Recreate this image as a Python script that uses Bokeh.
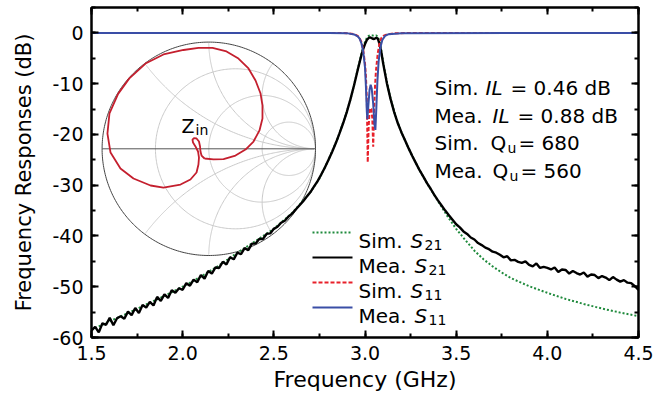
import numpy as np
from bokeh.plotting import figure
from bokeh.models import Range1d, LinearAxis, SingleIntervalTicker, PrintfTickFormatter, Label
from bokeh.embed import file_html
from bokeh.resources import INLINE

# ---------------- data ----------------
freq_sim_s21 = [1.50, 1.60, 1.70, 1.80, 1.90, 2.00, 2.10, 2.20, 2.30, 2.40, 2.50, 2.60, 2.70, 2.75,
                2.80, 2.85, 2.90, 2.92, 2.94, 2.96, 2.98, 2.99, 3.00, 3.01, 3.02, 3.03, 3.04, 3.05,
                3.06, 3.07, 3.08, 3.09, 3.10, 3.12, 3.14, 3.16, 3.18, 3.20, 3.25, 3.30, 3.35, 3.40,
                3.45, 3.50, 3.55, 3.60, 3.65, 3.70, 3.75, 3.80, 3.90, 4.00, 4.10, 4.20, 4.30, 4.40, 4.50]
sim_s21_db = [-58.5, -56.8, -55.2, -53.5, -51.8, -50.0, -48.0, -45.8, -43.3, -41.0, -38.6, -35.5, -31.4, -28.7,
              -25.0, -20.8, -15.6, -13.1, -10.3, -7.2, -4.2, -2.9, -1.8, -1.0, -0.6, -0.46, -0.5, -0.55,
              -0.5, -0.7, -1.7, -3.5, -5.8, -9.7, -12.9, -15.5, -17.7, -19.6, -23.6, -27.1, -30.2, -33.1,
              -36.0, -38.6, -40.8, -42.9, -44.6, -46.0, -47.2, -48.3, -49.9, -51.2, -52.4, -53.4, -54.3, -55.1, -55.8]

freq_mea_s21 = [1.50, 1.52, 1.54, 1.56, 1.58, 1.60, 1.62, 1.64, 1.66, 1.68, 1.70, 1.72, 1.74, 1.76, 1.78,
                1.80, 1.82, 1.84, 1.86, 1.88, 1.90, 1.92, 1.94, 1.96, 1.98, 2.00, 2.02, 2.04, 2.06, 2.08,
                2.10, 2.12, 2.14, 2.16, 2.18, 2.20, 2.22, 2.24, 2.26, 2.28, 2.30, 2.32, 2.34, 2.36, 2.38,
                2.40, 2.42, 2.44, 2.46, 2.48, 2.50, 2.52, 2.54, 2.56, 2.58, 2.60, 2.62, 2.64, 2.66, 2.68,
                2.70, 2.72, 2.74, 2.76, 2.78, 2.80, 2.82, 2.84, 2.86, 2.88, 2.90,
                2.92, 2.94, 2.96, 2.98, 2.99, 3.00, 3.01, 3.02, 3.03, 3.04, 3.05, 3.06, 3.07, 3.08, 3.09,
                3.10, 3.12, 3.14, 3.16, 3.18, 3.20,
                3.22, 3.24, 3.26, 3.28, 3.30, 3.32, 3.34, 3.36, 3.38, 3.40, 3.42, 3.44, 3.46, 3.48, 3.50,
                3.52, 3.54, 3.56, 3.58, 3.60, 3.62, 3.64, 3.66, 3.68, 3.70, 3.72, 3.74, 3.76, 3.78, 3.80,
                3.82, 3.84, 3.86, 3.88, 3.90, 3.92, 3.94, 3.96, 3.98, 4.00, 4.02, 4.04, 4.06, 4.08, 4.10,
                4.12, 4.14, 4.16, 4.18, 4.20, 4.22, 4.24, 4.26, 4.28, 4.30, 4.32, 4.34, 4.36, 4.38, 4.40,
                4.42, 4.44, 4.46, 4.48, 4.50]
mea_s21_db = [-58.6, -57.9, -59.0, -57.2, -57.5, -56.1, -57.6, -56.2, -55.8, -56.3, -54.9, -55.6, -54.2, -55.2, -53.6,
              -54.1, -53.0, -53.7, -52.0, -52.8, -51.5, -52.2, -50.7, -51.2, -50.3, -50.6, -49.3, -49.8, -48.6, -49.1,
              -47.7, -48.4, -46.9, -47.4, -46.2, -46.3, -45.1, -45.6, -44.2, -44.6, -43.3, -43.6, -42.4, -42.8, -41.5,
              -41.5, -40.6, -40.6, -39.6, -39.5, -38.6, -38.2, -37.4, -37.0, -36.2, -35.6, -34.8, -34.0, -33.2, -32.3,
              -31.4, -30.3, -29.2, -27.9, -26.5, -25.0, -23.4, -21.7, -19.8, -17.8, -15.6,
              -13.1, -10.3, -7.3, -4.4, -3.2, -2.2, -1.4, -1.0, -0.9, -1.1, -1.2, -1.0, -1.1, -2.2, -3.9,
              -6.1, -9.9, -13.0, -15.6, -17.8, -19.6,
              -21.2, -22.8, -24.3, -25.7, -27.1, -28.3, -29.6, -30.7, -31.9, -33.0, -34.0, -35.0, -35.9, -36.8, -37.7,
              -38.3, -39.1, -39.6, -40.3, -40.7, -41.4, -41.8, -42.3, -42.6, -43.1, -43.3, -43.7, -44.2, -44.0, -44.8,
              -44.7, -45.1, -45.3, -45.0, -45.7, -46.0, -45.4, -46.3, -46.1, -46.3, -46.6, -46.2, -47.1, -46.6, -46.7,
              -47.4, -46.9, -47.3, -47.6, -47.2, -48.0, -47.6, -47.7, -48.3, -47.9, -48.2, -48.7, -48.1, -48.6, -49.0,
              -48.7, -49.2, -49.3, -49.9, -50.6]

freq_sim_s11 = [1.50, 2.80, 2.90, 2.94, 2.96, 2.97, 2.98, 2.99, 3.00, 3.005, 3.01, 3.015, 3.02, 3.025, 3.03,
                3.035, 3.04, 3.045, 3.05, 3.055, 3.06, 3.07, 3.08, 3.09, 3.10, 3.12, 3.16, 3.25, 4.50]
sim_s11_db = [0.0, -0.02, -0.05, -0.25, -0.6, -1.0, -1.8, -3.3, -6.0, -8.5, -13.0, -25.5, -18.5, -15.5, -14.8,
              -15.0, -16.8, -22.4, -15.5, -10.5, -7.5, -4.0, -2.0, -1.0, -0.6, -0.3, -0.1, 0.0, 0.0]

freq_mea_s11 = [1.50, 2.80, 2.90, 2.94, 2.96, 2.97, 2.98, 2.99, 3.00, 3.005, 3.01, 3.013, 3.018, 3.025, 3.031,
                3.037, 3.045, 3.052, 3.057, 3.062, 3.068, 3.075, 3.085, 3.095, 3.11, 3.13, 3.20, 4.50]
mea_s11_db = [0.0, -0.02, -0.05, -0.3, -0.7, -1.1, -2.0, -3.6, -6.8, -10.5, -15.5, -17.0, -14.5, -11.2, -10.2,
              -11.0, -14.0, -18.0, -19.1, -15.0, -9.5, -5.5, -2.8, -1.4, -0.6, -0.25, -0.05, 0.0]

# Zin trace on the Smith chart (reflection coefficient, real / imaginary part)
zin_re = [-0.040, 0.044, 0.138, 0.250, 0.344, 0.419, 0.475, 0.503, 0.503, 0.485, 0.438, 0.372, 0.278, 0.166,
          0.035, -0.097, -0.237, -0.425, -0.593, -0.745, -0.850, -0.931, -0.950, -0.921, -0.828, -0.706, -0.546,
          -0.425, -0.265, -0.172, -0.115, -0.097, -0.092, -0.101, -0.125, -0.148, -0.153, -0.139, -0.115, -0.092,
          -0.082, -0.078, -0.068, -0.040]
zin_im = [-0.091, -0.100, -0.096, -0.063, -0.007, 0.068, 0.172, 0.284, 0.406, 0.518, 0.640, 0.753, 0.846, 0.912,
          0.945, 0.945, 0.926, 0.884, 0.799, 0.660, 0.515, 0.331, 0.143, -0.035, -0.185, -0.278, -0.344,
          -0.363, -0.335, -0.288, -0.222, -0.147, -0.082, -0.025, 0.022, 0.059, 0.087, 0.101, 0.097, 0.068,
          0.022, -0.025, -0.063, -0.091]

smith_r_values = [1 / 3, 1.0, 3.0]
smith_x_values = [0.5, 1.0, 2.0, -0.5, -1.0, -2.0]

legend_labels = [("Sim.", "S", "21"), ("Mea.", "S", "21"), ("Sim.", "S", "11"), ("Mea.", "S", "11")]
note_rows = [("Sim.", "IL", "", "= 0.46 dB"), ("Mea.", "IL", "", "= 0.88 dB"),
             ("Sim.", "Q", "u", "= 680"), ("Mea.", "Q", "u", "= 560")]

# ---------------- layout / style ----------------
FONT = "DejaVu Sans"
W, H = 667, 404
FL, FR, FT, FB = 91, 638, 7, 337
X0, X1, Y0, Y1 = 1.5, 4.5, -60, 5

def fx(px):
    return X0 + (px - FL) * (X1 - X0) / (FR - FL)

def fy(py):
    return Y1 - (py - FT) * (Y1 - Y0) / (FB - FT)

p = figure(width=W, height=H, x_range=Range1d(X0, X1), y_range=Range1d(Y0, Y1),
           output_backend="svg", toolbar_location=None,
           min_border_left=FL, min_border_right=W - FR, min_border_top=FT, min_border_bottom=H - FB)
p.xgrid.visible = False
p.ygrid.visible = False
p.outline_line_color = "black"
p.outline_line_width = 2
p.background_fill_color = "white"
p.border_fill_color = "white"

def style_axis(ax, show_labels=True):
    ax.axis_line_width = 2
    ax.axis_line_color = "black"
    ax.major_tick_in = 7
    ax.major_tick_out = 0
    ax.minor_tick_in = 4
    ax.minor_tick_out = 0
    ax.major_tick_line_width = 2
    ax.minor_tick_line_width = 2
    ax.major_tick_line_color = "black"
    ax.minor_tick_line_color = "black"
    ax.major_label_text_font = FONT
    ax.major_label_text_color = "black"
    ax.axis_label_text_font = FONT
    ax.axis_label_text_color = "black"
    ax.axis_label_text_font_style = "normal"
    if show_labels:
        ax.major_label_text_font_size = "19px"
        ax.major_label_standoff = 8
    else:
        ax.major_label_text_font_size = "0px"
        ax.major_label_standoff = 0
        ax.major_label_text_alpha = 0

p.xaxis.ticker = SingleIntervalTicker(interval=0.5, num_minor_ticks=2)
p.yaxis.ticker = SingleIntervalTicker(interval=10, num_minor_ticks=2)
p.xaxis.formatter = PrintfTickFormatter(format="%.1f")
p.yaxis.formatter = PrintfTickFormatter(format="%d")
p.xaxis.axis_label = "Frequency (GHz)"
p.yaxis.axis_label = "Frequency Responses (dB)"
style_axis(p.xaxis[0])
style_axis(p.yaxis[0])
p.xaxis.axis_label_text_font_size = "22px"
p.yaxis.axis_label_text_font_size = "21px"
p.xaxis.axis_label_standoff = 4
p.yaxis.axis_label_standoff = 13

top_ax = LinearAxis(ticker=SingleIntervalTicker(interval=0.5, num_minor_ticks=2))
right_ax = LinearAxis(ticker=SingleIntervalTicker(interval=10, num_minor_ticks=2))
style_axis(top_ax, False)
style_axis(right_ax, False)
p.add_layout(top_ax, "above")
p.add_layout(right_ax, "right")

# ---------------- Smith chart inset ----------------
SCX, SCY, SR = 208.3, 148.3, 106.7
p.extra_x_ranges["sx"] = Range1d((FL - SCX) / SR, (FR - SCX) / SR)
p.extra_y_ranges["sy"] = Range1d((SCY - FB) / SR, (SCY - FT) / SR)
GRID_C = "#c9c9c9"
th = np.linspace(0, 2 * np.pi, 361)
for r in smith_r_values:
    c, rad = r / (1 + r), 1 / (1 + r)
    p.line(c + rad * np.cos(th), rad * np.sin(th), line_color=GRID_C, line_width=1,
           x_range_name="sx", y_range_name="sy")
rr = np.concatenate([[0.0], np.logspace(-3, 3.5, 400)])
for xv in smith_x_values:
    z = rr + 1j * xv
    g = (z - 1) / (z + 1)
    p.line(g.real, g.imag, line_color=GRID_C, line_width=1, x_range_name="sx", y_range_name="sy")
p.line(np.cos(th), np.sin(th), line_color="#444444", line_width=1, x_range_name="sx", y_range_name="sy")
p.line([-1, 1], [0, 0], line_color="#555555", line_width=1, x_range_name="sx", y_range_name="sy")
p.line(zin_re, zin_im, line_color="#c41f2e", line_width=1.8, x_range_name="sx", y_range_name="sy")

# ---------------- curves ----------------
C_SIM21, C_MEA21, C_SIM11, C_MEA11 = "#1f8a3c", "black", "#e8202a", "#3a4ea6"
p.line(freq_sim_s21, sim_s21_db, line_color=C_SIM21, line_width=2, line_dash="2 2")
p.line(freq_mea_s21, mea_s21_db, line_color=C_MEA21, line_width=2.4)
p.line(freq_sim_s11, sim_s11_db, line_color=C_SIM11, line_width=2, line_dash="4 2")
p.line(freq_mea_s11, mea_s11_db, line_color=C_MEA11, line_width=2)

# ---------------- legend (drawn by hand for sub-scripts) ----------------
def lab(px, py, text, size=20, style="normal", color="black"):
    p.add_layout(Label(x=fx(px), y=fy(py), text=text, text_font=FONT, text_font_size=f"{size}px",
                       text_font_style=style, text_color=color, text_baseline="alphabetic",
                       text_align="left"))

leg_styles = [(C_SIM21, "2 2"), (C_MEA21, "solid"), (C_SIM11, "4 2"), (C_MEA11, "solid")]
LEG_Y0, LEG_DY = 240, 25
for i, ((word, sym, sub), (col, dash)) in enumerate(zip(legend_labels, leg_styles)):
    base = LEG_Y0 + i * LEG_DY
    p.line([fx(312), fx(352)], [fy(base - 8), fy(base - 8)], line_color=col, line_width=2, line_dash=dash)
    lab(358, base, word)
    sx = 410 if word == "Sim." else 414
    lab(sx, base, sym, style="italic")
    lab(sx + 14, base + 4, sub, size=14)

# ---------------- text block ----------------
NOTE_Y0, NOTE_DY = 87.5, 27.5
for i, (word, sym, sub, rest) in enumerate(note_rows):
    base = NOTE_Y0 + i * NOTE_DY
    lab(434, base, word)
    if sym == "IL":
        sx = 485 if word == "Sim." else 492
        lab(sx, base, sym, style="italic")
        lab(sx + 25, base, rest)
    else:
        sx = 490 if word == "Sim." else 492
        lab(sx, base, sym)
        lab(sx + 17, base + 5, sub, size=14)
        lab(sx + 28, base, rest)

# Zin label
lab(181, 125, "Z", size=19)
lab(195, 129, "in", size=14)

open("out.html", "w").write(file_html(p, INLINE))
